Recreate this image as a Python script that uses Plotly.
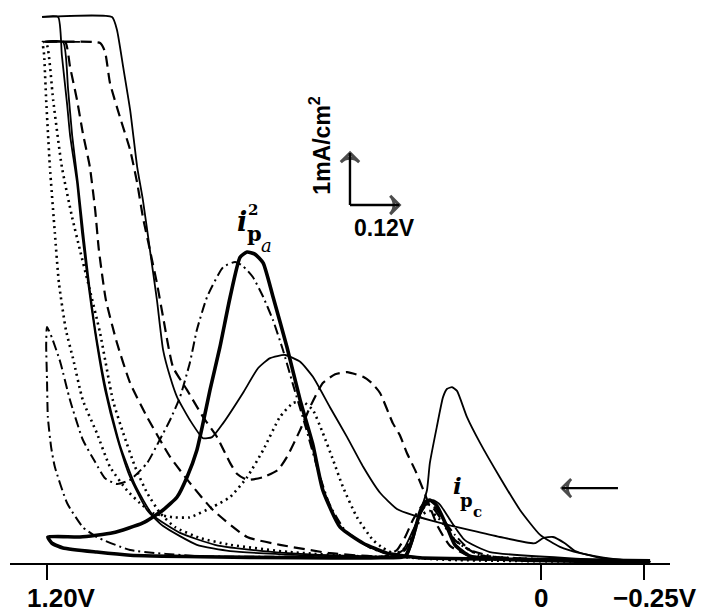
import plotly.graph_objects as go

# ---------------- data (potential in V, current density in mA/cm^2) ----------------
# thick solid curve (i_pa^2 peak) with reversal loop at 1.20 V
thick_v = [-0.265, -0.046, 0.148, 0.294, 0.374, 0.432, 0.488, 0.530, 0.554, 0.585, 0.617, 0.651,
           0.675, 0.695, 0.714, 0.731, 0.755, 0.780, 0.804, 0.821, 0.836, 0.860, 0.884, 0.918,
           0.967, 1.040, 1.120, 1.198, 1.188, 1.161, 1.079, 0.998, 0.828, 0.585, 0.391, 0.330,
           0.311, 0.294, 0.282, 0.270, 0.253, 0.228, 0.209, 0.172, 0.051, -0.265]
thick_i = [0.04, 0.06, 0.08, 0.10, 0.19, 0.38, 0.69, 1.40, 2.27, 3.13, 4.15, 5.12,
           5.77, 5.94, 5.98, 5.88, 5.12, 4.15, 3.33, 2.69, 2.17, 1.65, 1.27, 1.02,
           0.77, 0.58, 0.50, 0.50, 0.38, 0.29, 0.21, 0.15, 0.12, 0.10, 0.10, 0.13,
           0.50, 0.98, 1.17, 1.21, 1.10, 0.69, 0.35, 0.13, 0.06, 0.02]

# dash-dot curve (peak near i_pa^2, spike at 1.20 V)
dashdot_v = [-0.265, 0.100, 0.343, 0.415, 0.476, 0.513, 0.542, 0.573, 0.602, 0.627, 0.651, 0.675,
             0.700, 0.724, 0.743, 0.772, 0.811, 0.836, 0.853, 0.877, 0.901, 0.926, 0.957, 0.998,
             1.030, 1.059, 1.083, 1.113, 1.144, 1.168, 1.188, 1.200, 1.202, 1.200, 1.198, 1.190,
             1.181, 1.151, 1.113, 1.079, 0.998, 0.828, 0.585, 0.367, 0.330, 0.306, 0.289, 0.274,
             0.257, 0.233, 0.209, 0.172, 0.100, -0.265]
dashdot_i = [0.04, 0.06, 0.12, 0.29, 0.63, 1.12, 1.79, 2.65, 3.42, 4.10, 4.67, 5.12,
             5.50, 5.71, 5.79, 5.69, 5.12, 4.48, 3.85, 3.19, 2.75, 2.37, 1.92, 1.60,
             1.52, 1.63, 1.94, 2.37, 3.13, 3.87, 4.33, 4.54, 4.19, 3.52, 2.81, 2.23,
             1.85, 1.15, 0.69, 0.50, 0.25, 0.13, 0.12, 0.12, 0.25, 0.69, 1.02, 1.12,
             1.06, 0.79, 0.54, 0.25, 0.10, 0.02]

# dashed curve
dashed_v = [-0.265, 0.051, 0.172, 0.221, 0.250, 0.270, 0.284, 0.306, 0.326, 0.343, 0.360, 0.391,
            0.411, 0.432, 0.471, 0.500, 0.530, 0.561, 0.585, 0.617, 0.639, 0.675, 0.714, 0.738,
            0.755, 0.787, 0.821, 0.860, 0.894, 0.918, 0.933, 0.950, 0.967, 0.981, 0.998, 1.023,
            1.047, 1.059, 1.071, 1.210, 1.156, 1.144, 1.127, 1.113, 1.096, 1.083, 1.074, 1.057,
            1.030, 0.998, 0.957, 0.901, 0.853, 0.797, 0.714, 0.634, 0.513, 0.379, 0.350, 0.330,
            0.311, 0.289, 0.270, 0.245, 0.209, 0.148, -0.265]
dashed_i = [0.02, 0.06, 0.13, 0.33, 0.69, 1.08, 1.37, 1.79, 2.12, 2.46, 2.69, 3.27,
            3.46, 3.58, 3.67, 3.63, 3.46, 3.00, 2.56, 2.04, 1.79, 1.65, 1.60, 1.71,
            1.92, 2.42, 2.81, 3.33, 3.77, 4.73, 5.38, 6.02, 6.65, 7.31, 7.94, 8.58,
            9.23, 9.83, 10.00, 10.02, 10.02, 9.54, 8.90, 8.27, 7.62, 6.79, 6.02, 5.06,
            4.23, 3.46, 2.81, 2.04, 1.54, 1.02, 0.50, 0.35, 0.19, 0.13, 0.25, 0.50,
            0.83, 1.10, 1.13, 0.87, 0.44, 0.15, 0.02]

# dotted curve
dotted_v = [-0.265, 0.221, 0.343, 0.384, 0.408, 0.447, 0.481, 0.505, 0.530, 0.554, 0.578, 0.602,
            0.634, 0.675, 0.714, 0.755, 0.797, 0.853, 0.894, 0.943, 0.974, 1.006, 1.047, 1.079,
            1.113, 1.137, 1.154, 1.171, 1.181, 1.193, 1.202, 1.207, 1.210,
            1.200, 1.185, 1.164, 1.139, 1.120, 1.100, 1.071, 1.040, 1.015, 0.986, 0.957, 0.925,
            0.889, 0.828, 0.755, 0.610, 0.367, 0.330, 0.306, 0.287, 0.270, 0.245, 0.209,
            0.148, -0.265]
dotted_i = [0.02, 0.06, 0.13, 0.29, 0.44, 0.88, 1.46, 1.98, 2.50, 2.94, 3.10, 3.08,
            2.81, 2.17, 1.65, 1.27, 1.08, 0.88, 0.88, 0.96, 1.15, 1.40, 1.85, 2.50,
            3.13, 3.94, 4.48, 5.38, 6.35, 7.62, 8.90, 9.77, 10.02,
            9.96, 8.90, 7.62, 6.65, 6.02, 5.38, 4.42, 3.13, 2.50, 1.85, 1.35, 0.96,
            0.69, 0.48, 0.35, 0.21, 0.13, 0.29, 0.63, 0.94, 1.00, 0.83, 0.44,
            0.15, 0.02]

# thin solid curve with second anodic peak and O2 evolution (off scale)
solid1_v = [-0.265, -0.143, -0.083, -0.058, -0.029, -0.005, 0.015, 0.100, 0.172, 0.245, 0.311, 0.350,
            0.391, 0.432, 0.471, 0.513, 0.554, 0.585, 0.622, 0.658, 0.687, 0.724, 0.772, 0.799,
            0.821, 0.853, 0.884, 0.901, 0.918, 0.933, 0.950, 0.967, 0.981, 0.998, 1.015, 1.030,
            1.042, 1.212, 1.173, 1.164, 1.151, 1.144, 1.127, 1.115, 1.100, 1.083, 1.059, 1.030,
            0.998, 0.957, 0.918, 0.836, 0.755, 0.585, 0.367, 0.335, 0.311, 0.294, 0.277, 0.262,
            0.245, 0.221, 0.185, 0.124, -0.265]
solid1_i = [0.02, 0.10, 0.23, 0.38, 0.50, 0.48, 0.38, 0.50, 0.63, 0.77, 0.92, 1.04,
            1.35, 1.85, 2.42, 3.00, 3.58, 3.87, 4.00, 3.94, 3.75, 3.27, 2.69, 2.42,
            2.40, 2.75, 3.19, 3.58, 4.10, 5.06, 6.02, 6.98, 7.62, 8.71, 9.54, 10.25,
            10.50, 10.50, 10.50, 9.77, 8.81, 8.23, 7.31, 6.35, 5.38, 4.42, 3.33, 2.42,
            1.65, 1.02, 0.71, 0.35, 0.23, 0.15, 0.12, 0.25, 0.63, 0.92, 1.15, 1.21,
            1.12, 0.83, 0.44, 0.21, 0.02]

# thin solid curve with the tall peak near 0.22 V
solid2_v = [1.120, 1.210, 1.161, 1.149, 1.139, 1.125, 1.110, 1.096, 1.079, 1.054, 1.023, 0.986,
            0.943, 0.877, 0.792, 0.675, 0.513, 0.343, 0.326, 0.311, 0.294, 0.277, 0.270, 0.253,
            0.238, 0.228, 0.216, 0.204, 0.180, 0.148, 0.100, 0.051, 0.002, -0.046, -0.095,
            -0.175, -0.265]
solid2_i = [10.02, 10.02, 10.02, 9.13, 8.23, 7.31, 6.21, 5.25, 4.29, 3.23, 2.27, 1.50,
            0.92, 0.58, 0.35, 0.23, 0.15, 0.12, 0.13, 0.44, 0.96, 1.40, 1.92, 2.62,
            3.19, 3.35, 3.38, 3.31, 2.81, 2.31, 1.65, 1.02, 0.54, 0.31, 0.19,
            0.08, 0.02]

# axis ticks and labels
tick_vals = [1.20, 0.0, -0.25]
tick_text = ["1.20V", "0", "\u22120.25V"]
tick_label_shift = [14, 0, 11]

# scale bar: 1 mA/cm^2 and 0.12 V
scale_origin = (0.464, 6.885)
scale_i = 1.0
scale_v = 0.12

# scan-direction arrow (pointing toward positive potential)
scan_arrow_v = [-0.187, -0.051]
scan_arrow_i = 1.44

# ---------------- figure ----------------
fig = go.Figure()


def add_curve(v, i, width, dash):
    fig.add_trace(go.Scatter(x=v, y=i, mode="lines",
                             line=dict(color="black", width=width, dash=dash, shape="spline", smoothing=0.5),
                             hoverinfo="skip", showlegend=False))


def add_arrow(xs, ys, width):
    fig.add_trace(go.Scatter(x=xs, y=ys, mode="lines+markers",
                             line=dict(color="black", width=width),
                             marker=dict(symbol="arrow-wide-open", size=[0, 13], angleref="previous",
                                         color="black", line=dict(color="black", width=width + 0.6)),
                             hoverinfo="skip", showlegend=False, cliponaxis=False))


add_curve(solid2_v, solid2_i, 1.8, "solid")
add_curve(solid1_v, solid1_i, 1.8, "solid")
add_curve(dashed_v, dashed_i, 2.2, "11px,6px")
add_curve(dotted_v, dotted_i, 2.6, "2px,4px")
add_curve(dashdot_v, dashdot_i, 2.0, "10px,4px,2px,4px")
add_curve(thick_v, thick_i, 3.6, "solid")

ox, oy = scale_origin
add_arrow([ox, ox], [oy, oy + scale_i], 2.4)
add_arrow([ox, ox - scale_v], [oy, oy], 2.4)
add_arrow([scan_arrow_v[0], scan_arrow_v[1]], [scan_arrow_i, scan_arrow_i], 2.2)

ann = []
font_main = dict(family="Liberation Sans", size=26, color="black")
for tv, tt, sh in zip(tick_vals, tick_text, tick_label_shift):
    ann.append(dict(x=tv, y=0, xref="x", yref="y", text="<b>" + tt + "</b>", showarrow=False,
                    xanchor="center", yanchor="middle", xshift=sh, yshift=-35, font=font_main))

ann.append(dict(x=ox + 0.073, y=oy + 1.14, xref="x", yref="y", text="<b>1mA/cm<sup>2</sup></b>",
                textangle=-90, showarrow=False, font=dict(family="Liberation Sans", size=23, color="black")))
ann.append(dict(x=ox - 0.085, y=oy - 0.44, xref="x", yref="y", text="<b>0.12V</b>",
                showarrow=False, font=dict(family="Liberation Sans", size=23, color="black")))

# peak labels
lab = dict(family="DejaVu Serif", color="black")
peak_labels = [
    dict(x=0.726, y=6.56, text="<b><i>i</i></b>", font=dict(size=27, **lab)),
    dict(x=0.700, y=6.79, text="<b>2</b>", font=dict(size=15, **lab)),
    dict(x=0.697, y=6.33, text="<b>p</b>", font=dict(size=21, **lab)),
    dict(x=0.668, y=6.11, text="<i>a</i>", font=dict(size=18, **lab)),
    dict(x=0.204, y=1.50, text="<b><i>i</i></b>", font=dict(size=23, **lab)),
    dict(x=0.180, y=1.21, text="<b>p</b>", font=dict(size=18, **lab)),
    dict(x=0.155, y=0.98, text="<b>c</b>", font=dict(size=15, **lab)),
]
for a in peak_labels:
    a.update(xref="x", yref="y", showarrow=False)
ann += peak_labels

fig.update_layout(
    width=703, height=612,
    margin=dict(l=10, r=33, t=5, b=49),
    paper_bgcolor="white", plot_bgcolor="white",
    showlegend=False,
    annotations=ann,
    xaxis=dict(range=[1.2899, -0.3134], showgrid=False, zeroline=False, showline=True,
               linecolor="black", linewidth=2, ticks="outside", ticklen=15, tickwidth=2,
               tickcolor="black", tickvals=tick_vals, showticklabels=False, fixedrange=True),
    yaxis=dict(range=[0, 10.731], visible=False, fixedrange=True),
)

fig.write_html("out.html")
